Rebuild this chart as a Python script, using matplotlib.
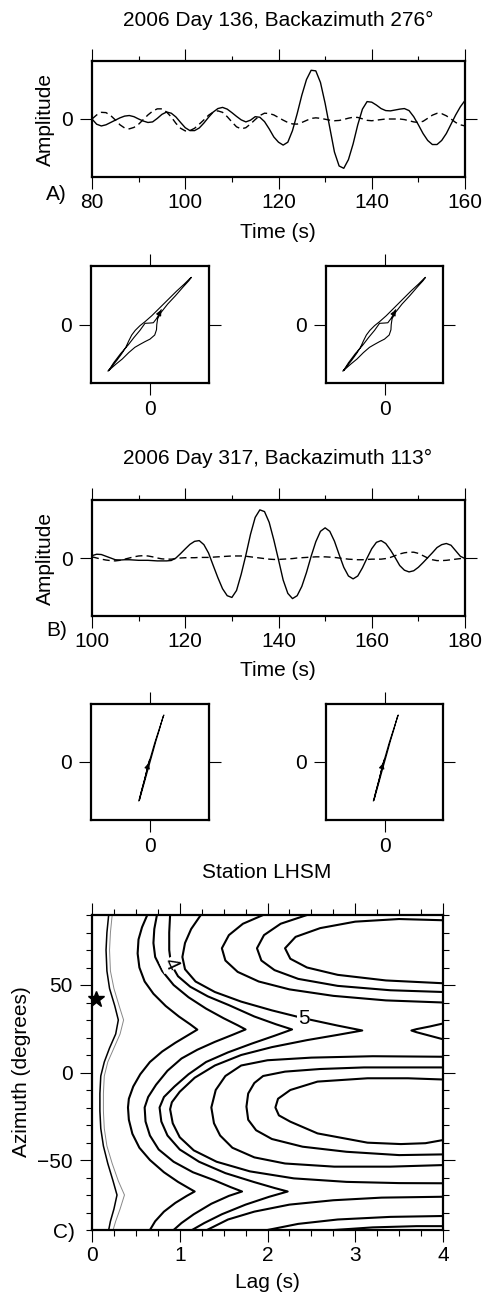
import numpy as np
import matplotlib.pyplot as plt
from matplotlib.ticker import MultipleLocator

plt.rcParams['font.family'] = ['Liberation Sans', 'DejaVu Sans']
plt.rcParams['font.size'] = 15

# --- Event A: 2006 day 136 (1 s samples, 80-160 s) ---
time_a = np.arange(80, 161)
solid_a = [0.00, -0.09, -0.12, -0.10, -0.06, -0.02, 0.02, 0.05, 0.06, 0.04,
           0.00, -0.035, -0.06, -0.05, 0.01, 0.08, 0.12, 0.10, 0.035, -0.06,
           -0.15, -0.20, -0.20, -0.155, -0.07, 0.03, 0.12, 0.18, 0.20, 0.17,
           0.11, 0.045, -0.015, -0.05, -0.02, 0.04, 0.03, -0.045, -0.17, -0.31,
           -0.40, -0.45, -0.40, -0.20, 0.09, 0.41, 0.68, 0.84, 0.83, 0.63,
           0.27, -0.15, -0.57, -0.81, -0.85, -0.70, -0.43, -0.10, 0.17, 0.30,
           0.29, 0.24, 0.18, 0.145, 0.14, 0.155, 0.17, 0.18, 0.145, 0.04,
           -0.10, -0.25, -0.37, -0.44, -0.44, -0.37, -0.25, -0.09, 0.07, 0.21,
           0.32]
dashed_a = [0.00, 0.07, 0.115, 0.11, 0.06, -0.016, -0.10, -0.155, -0.17, -0.145,
            -0.09, -0.01, 0.07, 0.135, 0.175, 0.175, 0.12, 0.035, -0.075, -0.16,
            -0.205, -0.20, -0.16, -0.09, -0.015, 0.065, 0.12, 0.14, 0.115, 0.04,
            -0.05, -0.135, -0.17, -0.15, -0.085, -0.01, 0.06, 0.10, 0.095, 0.07,
            0.025, -0.02, -0.06, -0.085, -0.088, -0.06, -0.025, 0.01, 0.02, 0.012,
            -0.004, -0.02, -0.03, -0.025, -0.008, 0.014, 0.03, 0.027, 0.003, -0.023,
            -0.03, -0.02, -0.01, 0.0, 0.0, 0.0, 0.0, -0.01, -0.03, -0.05,
            -0.06, -0.04, 0.012, 0.066, 0.098, 0.092, 0.055, 0.0, -0.06, -0.10,
            -0.12]

# --- Event B: 2006 day 317 (1 s samples, 100-180 s) ---
time_b = np.arange(100, 181)
solid_b = [0.04, 0.065, 0.06, 0.03, 0.0, -0.03, -0.035, -0.03, -0.03, -0.035,
           -0.04, -0.04, -0.04, -0.045, -0.05, -0.05, -0.05, -0.043, 0.0, 0.076,
           0.157, 0.235, 0.287, 0.30, 0.23, 0.085, -0.13, -0.34, -0.53, -0.65,
           -0.68, -0.56, -0.28, 0.05, 0.41, 0.70, 0.83, 0.80, 0.615, 0.31,
           -0.03, -0.38, -0.61, -0.70, -0.65, -0.49, -0.25, 0.03, 0.28, 0.46,
           0.52, 0.46, 0.29, 0.06, -0.16, -0.31, -0.36, -0.31, -0.17, 0.0,
           0.16, 0.27, 0.30, 0.25, 0.14, 0.01, -0.13, -0.21, -0.24, -0.22,
           -0.16, -0.08, 0.005, 0.09, 0.18, 0.23, 0.25, 0.22, 0.125, 0.03,
           -0.01]
dashed_b = [0.02, 0.0, -0.02, -0.035, -0.045, -0.05, -0.04, -0.02, 0.0, 0.02,
            0.035, 0.04, 0.035, 0.02, 0.0, -0.015, -0.02, -0.02, -0.01, 0.0,
            0.005, 0.005, 0.005, 0.01, 0.01, 0.01, 0.015, 0.02, 0.025, 0.03,
            0.035, 0.035, 0.035, 0.03, 0.02, 0.01, 0.0, -0.01, -0.02, -0.025,
            -0.025, -0.02, -0.015, -0.01, 0.0, 0.005, 0.01, 0.015, 0.02, 0.02,
            0.02, 0.015, 0.01, 0.0, -0.01, -0.02, -0.025, -0.03, -0.03, -0.025,
            -0.02, -0.02, -0.02, -0.01, 0.01, 0.04, 0.07, 0.09, 0.10, 0.10,
            0.08, 0.04, 0.0, -0.03, -0.045, -0.045, -0.04, -0.03, -0.02, -0.01,
            0.0]

# --- Particle motion (normalised) ---
pm_a_x = [-0.712, -0.64, -0.56, -0.48, -0.41, -0.36, -0.31, -0.25, -0.17, -0.085,
          0.03, 0.16, 0.30, 0.45, 0.58, 0.67, 0.701,
          0.66, 0.56, 0.43, 0.30, 0.19, 0.13, 0.115, 0.11, 0.08, 0.0, -0.085, -0.17,
          -0.256, -0.36, -0.47, -0.58, -0.67, -0.70,
          -0.62, -0.50, -0.37, -0.27, -0.17, -0.085, 0.0, 0.057, 0.11, 0.15, 0.19]
pm_a_y = [-0.795, -0.71, -0.61, -0.50, -0.39, -0.28, -0.18, -0.10, -0.02, 0.048,
          0.15, 0.28, 0.42, 0.57, 0.69, 0.78, 0.806,
          0.75, 0.64, 0.49, 0.35, 0.21, 0.10, 0.0, -0.09, -0.18, -0.25, -0.293, -0.34,
          -0.39, -0.48, -0.59, -0.68, -0.76, -0.79,
          -0.66, -0.50, -0.35, -0.22, -0.10, 0.02, 0.025, 0.03, 0.10, 0.17, 0.25]
pm_b_x = [-0.19, -0.14, -0.08, -0.03, 0.02, 0.08, 0.15, 0.235, 0.22, 0.16, 0.10, 0.04,
          -0.01, -0.07, -0.13, -0.18, -0.15, -0.09, -0.04, -0.01]
pm_b_y = [-0.67, -0.48, -0.25, -0.05, 0.12, 0.33, 0.55, 0.81, 0.78, 0.56, 0.36, 0.14,
          -0.04, -0.26, -0.48, -0.66, -0.52, -0.30, -0.08, 0.03]

# --- Station LHSM misfit contours: (lag s, azimuth deg) ---
conf_black = [(0.19, 90), (0.17, 80), (0.16, 70), (0.17, 58), (0.20, 48), (0.26, 38), (0.30, 30),
              (0.27, 22), (0.20, 14), (0.14, 6), (0.10, -2), (0.09, -12), (0.09, -22), (0.10, -32),
              (0.13, -42), (0.18, -52), (0.24, -62), (0.285, -70), (0.25, -78), (0.21, -85), (0.19, -90)]
conf_grey = [(0.23, 90), (0.21, 80), (0.20, 70), (0.21, 58), (0.25, 48), (0.31, 38), (0.36, 30),
             (0.32, 22), (0.25, 14), (0.18, 6), (0.14, -2), (0.13, -12), (0.13, -22), (0.14, -32),
             (0.17, -42), (0.23, -52), (0.30, -62), (0.37, -70), (0.32, -78), (0.27, -85), (0.24, -90)]
contours = [
    [(0.63, 90), (0.57, 83), (0.53, 76), (0.52, 68), (0.54, 60), (0.60, 52), (0.70, 45), (0.84, 38),
     (0.99, 32), (1.12, 27.5), (1.20, 24.5), (1.10, 21.5), (0.95, 17), (0.80, 12), (0.66, 6), (0.55, -1),
     (0.47, -8), (0.42, -15), (0.41, -20), (0.42, -27), (0.46, -35), (0.54, -43), (0.66, -50), (0.82, -57),
     (0.98, -62.5), (1.10, -66), (1.17, -68), (1.08, -70.5), (0.95, -74.5), (0.82, -79.5), (0.72, -85),
     (0.66, -90)],
    [(0.74, 90), (0.71, 82), (0.70, 74), (0.72, 66), (0.80, 58), (0.93, 50), (1.10, 43), (1.30, 36.5),
     (1.50, 31), (1.66, 27), (1.75, 24.6), (1.60, 21.5), (1.40, 17.5), (1.20, 13), (1.02, 8), (0.86, 1),
     (0.73, -7), (0.64, -14), (0.60, -20), (0.61, -28), (0.66, -36), (0.76, -44), (0.93, -51), (1.15, -57),
     (1.39, -61.5), (1.58, -65.5), (1.71, -68), (1.56, -70.5), (1.36, -75), (1.16, -81), (1.02, -86),
     (0.93, -90)],
    [(0.89, 90), (0.88, 80), (0.88, 70), (0.90, 62), (0.98, 55), (1.12, 49), (1.32, 43.5), (1.56, 38.5),
     (1.85, 32), (2.10, 27.5), (2.28, 24.6), (2.08, 21), (1.82, 16.5), (1.55, 11.5), (1.30, 6), (1.10, -1),
     (0.94, -8), (0.82, -14), (0.77, -20), (0.79, -28), (0.86, -36), (1.0, -44), (1.22, -51), (1.52, -57.5),
     (1.84, -62.5), (2.08, -66), (2.23, -68), (2.02, -71), (1.75, -75.5), (1.48, -81), (1.28, -86),
     (1.14, -90)],
    [(1.24, 90), (1.13, 82), (1.06, 74), (1.03, 66), (1.06, 59), (1.18, 52), (1.40, 46), (1.70, 40.5),
     (2.05, 35.5), (2.41, 31), (2.80, 26.8), (3.08, 24), (2.80, 21.5), (2.45, 18.5), (2.05, 14.5),
     (1.70, 10), (1.40, 4), (1.17, -3), (1.0, -11), (0.91, -17), (0.89, -21), (0.92, -29), (1.0, -37),
     (1.16, -44.5), (1.42, -51), (1.80, -56.5), (2.30, -60.5), (2.90, -62.5), (3.5, -63.2), (4.0, -63.3)],
    [(1.31, -90), (1.55, -84), (1.85, -79.5), (2.25, -75.5), (2.75, -73), (3.3, -71.5), (4.0, -71)],
    [(1.95, 90), (1.72, 85), (1.56, 78.5), (1.48, 71), (1.52, 64), (1.66, 57.5), (1.90, 52), (2.25, 47.5),
     (2.75, 43.8), (3.35, 41.2), (4.0, 40)],
    [(4.0, 28), (3.85, 26.3), (3.7, 24.8), (3.64, 24), (3.7, 23), (3.85, 21), (4.0, 19)],
    [(4.0, 9), (3.2, 9.3), (2.5, 8.5), (2.0, 7), (1.7, 4), (1.52, -2), (1.41, -10), (1.36, -20),
     (1.39, -29), (1.46, -36), (1.6, -43), (1.85, -48.5), (2.2, -52), (2.76, -53.8), (3.4, -53.8),
     (4.0, -52.9)],
    [(2.0, -90), (2.35, -86.5), (2.8, -84), (3.4, -82.5), (4.0, -82)],
    [(2.45, 90), (2.15, 85), (1.96, 78.5), (1.88, 71), (1.93, 64), (2.08, 58.5), (2.35, 53.5), (2.8, 49.5),
     (3.4, 47), (4.0, 46)],
    [(4.0, 2.9), (3.1, 2.9), (2.6, 2.0), (2.2, 0.5), (1.95, -2), (1.85, -6), (1.78, -12), (1.76, -19.5),
     (1.78, -27), (1.87, -33), (2.05, -38), (2.4, -42.4), (2.9, -45.3), (3.5, -47.2), (4.0, -46.8)],
    [(2.76, -90), (3.2, -88.5), (3.7, -87.8), (4.0, -87.8)],
    [(4.0, 87), (3.5, 87.7), (3.0, 86.2), (2.6, 82.5), (2.32, 77.5), (2.2, 71), (2.26, 65), (2.45, 60),
     (2.8, 55.8), (3.35, 52.6), (4.0, 51)],
    [(4.0, -4.0), (3.6, -3.3), (3.14, -3.3), (2.57, -5.2), (2.26, -10), (2.12, -15), (2.09, -20),
     (2.13, -24.5), (2.26, -28.1), (2.57, -34.8), (3.14, -40.1), (3.52, -40.9), (3.8, -40.4), (4.0, -38.6)],
]
contour_labels = [('4', 0.90, 62, -65), ('5', 2.41, 31, 0)]
best_lag, best_az = 0.05, 42

W, H = 482, 1295
fig = plt.figure(figsize=(W / 100, H / 100), dpi=100, facecolor='white')


def rect(x0, y0, x1, y1):
    return [x0 / W, 1 - y1 / H, (x1 - x0) / W, (y1 - y0) / H]


def style_box(ax):
    for sp in ax.spines.values():
        sp.set_linewidth(1.6)


def wave_panel(r, t, s, d, xlo, xhi):
    ax = fig.add_axes(r)
    ax.plot(t, s, color='black', lw=1.0)
    ax.plot(t, d, color='black', lw=1.0, dashes=(5, 3))
    ax.set_xlim(xlo, xhi)
    ax.set_ylim(-1, 1)
    ax.xaxis.set_major_locator(MultipleLocator(20))
    ax.xaxis.set_minor_locator(MultipleLocator(10))
    ax.set_yticks([0])
    ax.tick_params(axis='x', which='both', direction='out', top=True, bottom=True, width=0.8, pad=3)
    ax.tick_params(axis='x', which='major', length=8.6)
    ax.tick_params(axis='x', which='minor', length=3.6)
    ax.tick_params(axis='y', direction='out', left=True, right=True, length=8.6, width=0.8, pad=5.5)
    style_box(ax)
    return ax


def pm_panel(r, x, y):
    ax = fig.add_axes(r)
    ax.plot(x, y, color='black', lw=0.8, solid_joinstyle='round')
    ax.annotate('', xy=(x[-1], y[-1]), xytext=(x[-2], y[-2]),
                arrowprops=dict(arrowstyle='-|>', color='black', lw=0.8, mutation_scale=8))
    ax.set_xlim(-1, 1)
    ax.set_ylim(-1, 1)
    ax.set_xticks([0])
    ax.set_yticks([0])
    ax.tick_params(direction='out', top=True, bottom=True, left=True, right=True,
                   length=8.6, width=0.8)
    ax.tick_params(axis='x', pad=3.5)
    ax.tick_params(axis='y', pad=5)
    style_box(ax)
    return ax


def ftext(x, y, s, **kw):
    fig.text(x / W, 1 - y / H, s, ha=kw.pop('ha', 'center'), va=kw.pop('va', 'center'), **kw)


# --- A ---
ftext(278, 20, '2006 Day 136, Backazimuth 276°')
wave_panel(rect(92, 61, 465, 177), time_a, solid_a, dashed_a, 80, 160)
ftext(45, 119, 'Amplitude', rotation=90)
ftext(278, 232, 'Time (s)')
ftext(67, 194, 'A)', ha='right')
pm_panel(rect(91, 266, 209, 383), pm_a_x, pm_a_y)
pm_panel(rect(326, 266, 443, 383), pm_a_x, pm_a_y)

# --- B ---
ftext(278, 458, '2006 Day 317, Backazimuth 113°')
wave_panel(rect(92, 500, 465, 616), time_b, solid_b, dashed_b, 100, 180)
ftext(45, 558, 'Amplitude', rotation=90)
ftext(278, 670, 'Time (s)')
ftext(67, 630, 'B)', ha='right')
pm_panel(rect(91, 704, 209, 820), pm_b_x, pm_b_y)
pm_panel(rect(326, 704, 443, 820), pm_b_x, pm_b_y)

# --- C ---
ftext(267, 872, 'Station LHSM')
ax = fig.add_axes(rect(92, 915, 443, 1230))
ax.plot(*zip(*conf_black), color='black', lw=1.1)
ax.plot(*zip(*conf_grey), color='#888888', lw=0.7)
for c in contours:
    ax.plot(*zip(*c), color='black', lw=1.5, solid_joinstyle='round')
for txt, lx, ly, rot in contour_labels:
    ax.text(lx, ly, txt, ha='center', va='center', rotation=rot, fontsize=15,
            bbox=dict(facecolor='white', edgecolor='none', pad=0.5))
ax.plot(best_lag, best_az, marker='*', color='black', ms=12, clip_on=False)
ax.set_xlim(0, 4)
ax.set_ylim(-90, 90)
ax.xaxis.set_major_locator(MultipleLocator(1))
ax.xaxis.set_minor_locator(MultipleLocator(0.25))
ax.yaxis.set_major_locator(MultipleLocator(50))
ax.yaxis.set_minor_locator(MultipleLocator(10))
ax.tick_params(which='both', direction='out', top=True, bottom=True, left=True, right=True, width=0.8)
ax.tick_params(which='major', length=8.6)
ax.tick_params(which='minor', length=4.3)
ax.tick_params(axis='x', pad=3)
ax.tick_params(axis='y', pad=5.5)
ax.set_yticklabels([f'{int(v)}'.replace('-', '\u2212') for v in ax.get_yticks()])
style_box(ax)
ftext(22, 1072, 'Azimuth (degrees)', rotation=90)
ftext(267, 1283, 'Lag (s)')
ftext(75, 1232, 'C)', ha='right')

fig.savefig('out.png', dpi=100, facecolor='white')
plt.close(fig)
